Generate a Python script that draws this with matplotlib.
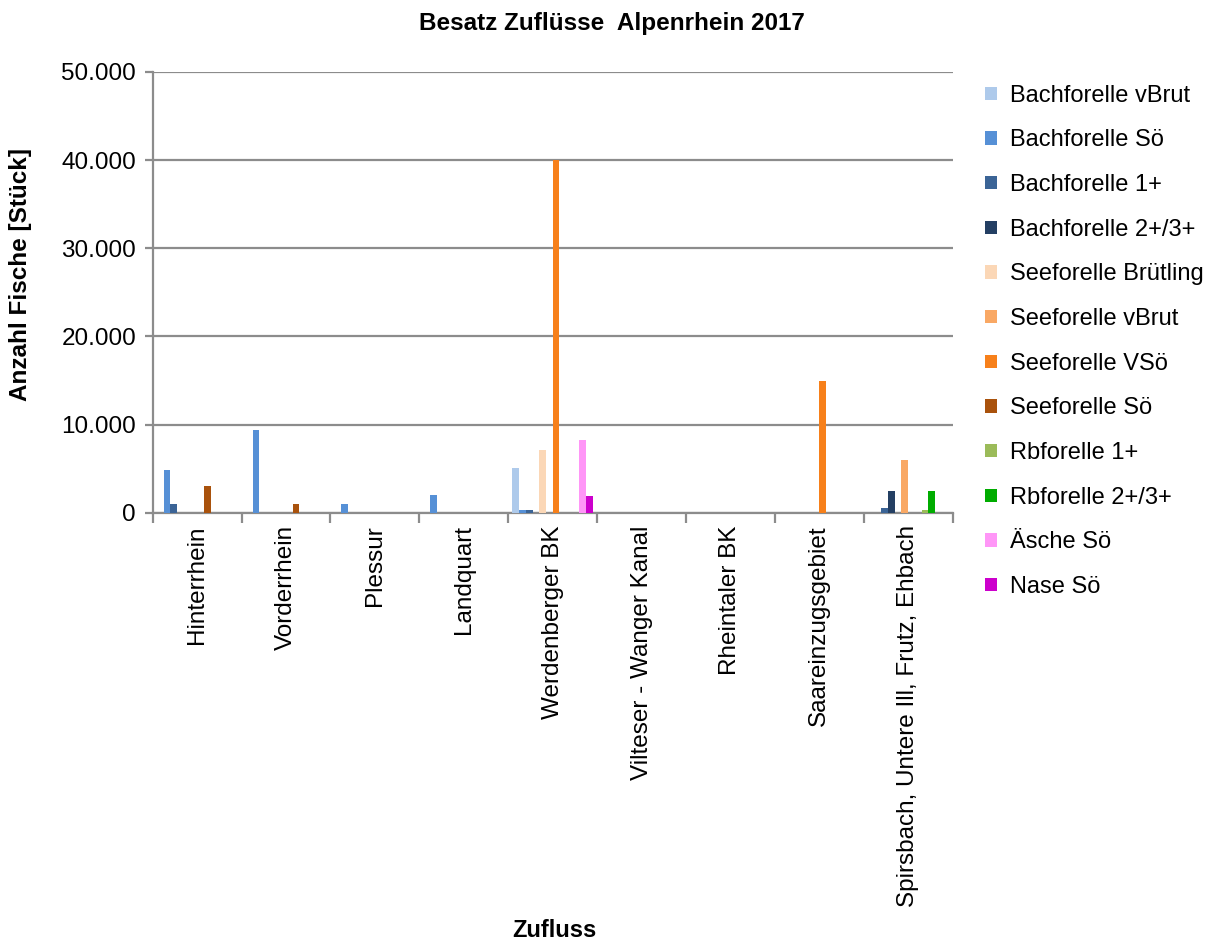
import numpy as np
import matplotlib
matplotlib.use("Agg")
import matplotlib.pyplot as plt
from matplotlib.patches import Patch
from matplotlib.ticker import FuncFormatter, MultipleLocator

plt.rcParams['font.family'] = ['Liberation Sans', 'DejaVu Sans']

zufluesse = ["Hinterrhein", "Vorderrhein", "Plessur", "Landquart", "Werdenberger BK",
             "Vilteser - Wanger Kanal", "Rheintaler BK", "Saareinzugsgebiet",
             "Spirsbach, Untere Ill, Frutz, Ehbach"]

bf_vbrut     = [0, 0, 0, 0, 5100, 0, 0, 0, 0]
bf_soe       = [4900, 9400, 1000, 2000, 300, 0, 0, 0, 0]
bf_1p        = [1000, 0, 0, 0, 300, 0, 0, 0, 500]
bf_23p       = [0, 0, 0, 0, 0, 0, 0, 0, 2500]
sf_bruetling = [0, 0, 0, 0, 7150, 0, 0, 0, 0]
sf_vbrut     = [0, 0, 0, 0, 0, 0, 0, 0, 5950]
sf_vsoe      = [0, 0, 0, 0, 40000, 0, 0, 15000, 0]
sf_soe       = [3000, 1000, 0, 0, 0, 0, 0, 0, 0]
rb_1p        = [0, 0, 0, 0, 0, 0, 0, 0, 300]
rb_23p       = [0, 0, 0, 0, 0, 0, 0, 0, 2500]
aesche_soe   = [0, 0, 0, 0, 8300, 0, 0, 0, 0]
nase_soe     = [0, 0, 0, 0, 1900, 0, 0, 0, 0]

serien = [
    ("Bachforelle vBrut", bf_vbrut, "#AECAEB"),
    ("Bachforelle Sö", bf_soe, "#5690D6"),
    ("Bachforelle 1+", bf_1p, "#3B6496"),
    ("Bachforelle 2+/3+", bf_23p, "#243F63"),
    ("Seeforelle Brütling", sf_bruetling, "#FBD7B6"),
    ("Seeforelle vBrut", sf_vbrut, "#F9A864"),
    ("Seeforelle VSö", sf_vsoe, "#F7801A"),
    ("Seeforelle Sö", sf_soe, "#A9520C"),
    ("Rbforelle 1+", rb_1p, "#9BBB59"),
    ("Rbforelle 2+/3+", rb_23p, "#00AC00"),
    ("Äsche Sö", aesche_soe, "#FF96F7"),
    ("Nase Sö", nase_soe, "#CC00CC"),
]

grau = "#8C8C8C"

fig = plt.figure(figsize=(12.12, 9.42), dpi=100)
ax = fig.add_axes([0.126, 0.4556, 0.660, 0.4680])

x = np.arange(len(zufluesse)) + 0.5
breite = 0.0754
for i, (name, werte, farbe) in enumerate(serien):
    ax.bar(x + (i - 5.5) * breite, werte, width=breite, color=farbe,
           linewidth=0, zorder=3)

ax.set_xlim(0, len(zufluesse))
ax.set_ylim(0, 50000)
ax.yaxis.set_major_locator(MultipleLocator(10000))
ax.yaxis.set_major_formatter(FuncFormatter(lambda v, p: f"{int(v):,}".replace(",", ".")))
ax.grid(axis='y', color=grau, linewidth=1.6, zorder=0)
ax.set_axisbelow(True)

# category boundaries carry the ticks, names sit in between
ax.set_xticks(np.arange(len(zufluesse) + 1))
ax.set_xticklabels([])
ax.set_xticks(x, minor=True)
ax.set_xticklabels(zufluesse, minor=True, rotation=90, fontsize=17.5, va='top')
ax.tick_params(axis='x', which='major', length=7, width=1.6, color=grau, direction='out')
ax.tick_params(axis='x', which='minor', length=0, pad=9)
ax.tick_params(axis='y', length=6, width=1.6, color=grau, labelsize=17.5, pad=6)

for s in ['top', 'right']:
    ax.spines[s].set_visible(False)
for s in ['left', 'bottom']:
    ax.spines[s].set_color(grau)
    ax.spines[s].set_linewidth(1.6)

fig.text(0.505, 0.975, "Besatz Zuflüsse  Alpenrhein 2017", ha='center', va='center',
         fontsize=17.5, fontweight='bold')
fig.text(0.457, 0.0127, "Zufluss", ha='center', va='center', fontsize=17, fontweight='bold')
fig.text(0.017, 0.709, "Anzahl Fische [Stück]", ha='center', va='center', rotation=90,
         fontsize=17.5, fontweight='bold')

handles = [Patch(facecolor=f, edgecolor='none', label=n) for n, _, f in serien]
fig.legend(handles=handles, loc='upper left', bbox_to_anchor=(0.805, 0.920),
           frameon=False, fontsize=17, handlelength=0.5, handleheight=0.5,
           handletextpad=0.55, labelspacing=0.96, borderaxespad=0)

fig.savefig("out.png", dpi=100)
